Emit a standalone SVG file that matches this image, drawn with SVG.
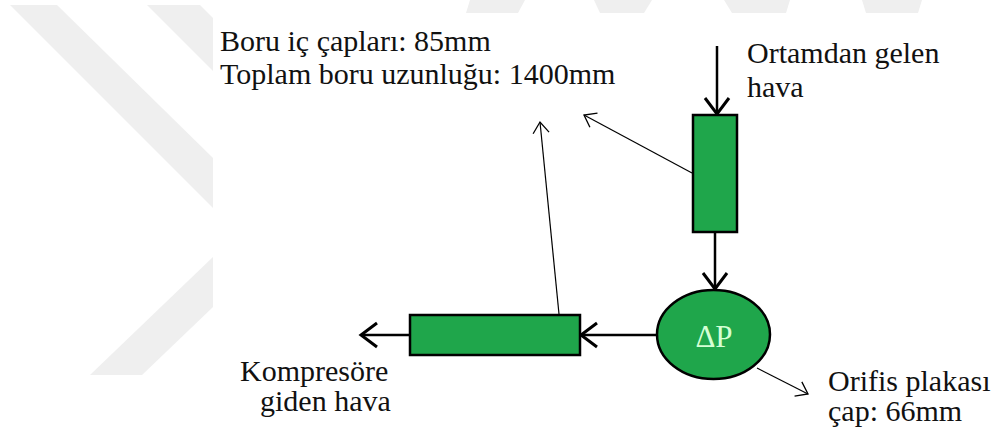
<svg xmlns="http://www.w3.org/2000/svg" width="997" height="435" viewBox="0 0 997 435">
  <style>
    .wm { fill: #efefef; }
    .pipe { fill: #1fa64b; stroke: #000; stroke-width: 2.5; }
    .lbl { font-size: 30px; fill: #111; }
    .dp { font-size: 31px; fill: #d4ffd4; text-anchor: middle; }
    .flow { stroke: #000; stroke-width: 2.5; fill: none; marker-end: url(#headBig); }
    .note { stroke: #000; stroke-width: 1.2; fill: none; marker-end: url(#headSmall); }
  </style>
  <defs>
    <marker id="headBig" markerUnits="userSpaceOnUse" viewBox="-20 -14 24 28" markerWidth="24" markerHeight="28" refX="0" refY="0" orient="auto">
      <path d="M-16,-12 L0,0 L-16,12" fill="none" stroke="#000" stroke-width="3"/>
    </marker>
    <marker id="headSmall" markerUnits="userSpaceOnUse" viewBox="-14 -10 16 20" markerWidth="16" markerHeight="20" refX="0" refY="0" orient="auto">
      <path d="M-11,-8 L0,0 L-11,8" fill="none" stroke="#000" stroke-width="1.3"/>
    </marker>
  </defs>

  <rect width="997" height="435" fill="#ffffff"/>

  <!-- background watermark bands -->
  <g id="watermark">
    <polygon class="wm" points="10,5 57,5 213,158 213,208"/>
    <polygon class="wm" points="147,5 200,5 213,18 213,71"/>
    <polygon class="wm" points="213,257 213,307 142,375 90,375"/>
    <polygon class="wm" points="470,0 525,0 518,13 466,13"/>
    <polygon class="wm" points="594,0 652,0 644,13 600,13"/>
    <polygon class="wm" points="724,0 790,0 786,13 732,13"/>
    <polygon class="wm" points="862,0 922,0 918,13 866,13"/>
  </g>

  <!-- connectors -->
  <g id="connectors">
    <line class="flow" x1="717" y1="46" x2="717" y2="114"/>
    <line class="flow" x1="715" y1="233" x2="715" y2="289"/>
    <line class="flow" x1="657" y1="335" x2="581" y2="335"/>
    <line class="flow" x1="410" y1="335" x2="361" y2="335"/>
    <line class="note" x1="559" y1="314" x2="540" y2="122"/>
    <line class="note" x1="692" y1="173" x2="584" y2="115"/>
    <line class="note" x1="757" y1="368" x2="808" y2="394"/>
  </g>

  <g id="pipe-inlet">
    <rect class="pipe" x="693" y="115" width="44" height="117"/>
  </g>

  <g id="orifice">
    <ellipse class="pipe" cx="713.5" cy="334.5" rx="56.5" ry="44.5"/>
    <text class="dp" x="714" y="347" font-family="Liberation Serif, DejaVu Serif, serif">ΔP</text>
  </g>

  <g id="pipe-outlet">
    <rect class="pipe" x="410" y="315" width="170" height="40"/>
  </g>

  <g font-family="Liberation Serif, DejaVu Serif, serif">
    <g id="label-pipe">
      <text class="lbl" x="220" y="51">Boru iç çapları: 85mm</text>
      <text class="lbl" x="220" y="84">Toplam boru uzunluğu: 1400mm</text>
    </g>

    <g id="label-inlet">
      <text class="lbl" x="747" y="63">Ortamdan gelen</text>
      <text class="lbl" x="747" y="97">hava</text>
    </g>

    <g id="label-orifice">
      <text class="lbl" x="828" y="391">Orifis plakası</text>
      <text class="lbl" x="828" y="421">çap: 66mm</text>
    </g>

    <g id="label-outlet">
      <text class="lbl" x="240" y="381">Kompresöre</text>
      <text class="lbl" x="260" y="411">giden hava</text>
    </g>
  </g>
</svg>
